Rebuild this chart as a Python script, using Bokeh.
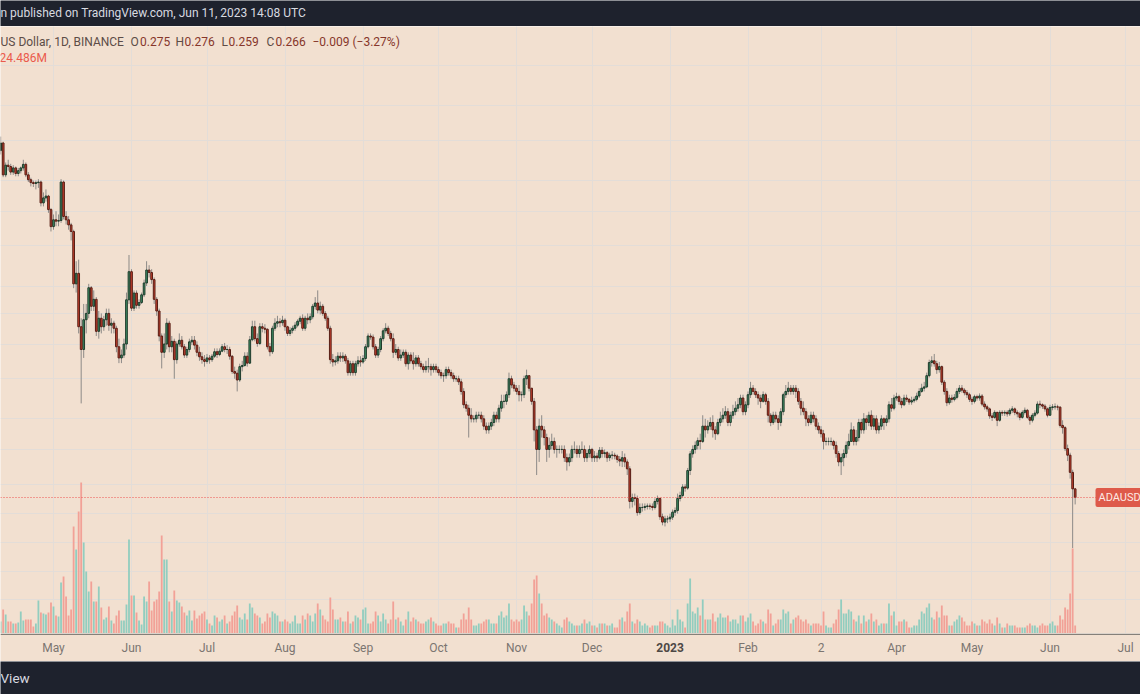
import math
import pandas as pd
from bokeh.plotting import figure
from bokeh.layouts import column
from bokeh.models import Range1d, LinearScale, Span, Label, Grid, FixedTicker, ColumnDataSource
from bokeh.embed import file_html
from bokeh.resources import INLINE
from bokeh.core.properties import value

# ---------------- data (ADA/USD daily) ----------------
start_date = "2022-04-10"
first_open = 1.010

c_2022_04 = [1.040,0.920,0.955,0.950,0.930,0.945,0.925,0.935,0.945,0.958,0.920,0.903,0.893,0.890,0.893,0.895,0.826,0.842,0.848,0.805,0.754]
h_2022_04 = [1.066,1.045,0.965,0.975,0.960,0.955,0.950,0.945,0.950,0.975,0.965,0.930,0.910,0.900,0.900,0.905,0.900,0.860,0.870,0.852,0.810]
l_2022_04 = [0.995,0.912,0.912,0.935,0.920,0.920,0.915,0.915,0.925,0.935,0.912,0.895,0.880,0.878,0.870,0.875,0.815,0.815,0.830,0.795,0.740]
v_2022_04 = [12,24,19,12,12,10,10,11,22,13,14,14,14,7,10,33,21,20,19,21,31]

c_2022_05 = [0.774,0.770,0.772,0.895,0.784,0.774,0.759,0.740,0.605,0.630,0.513,0.470,0.527,0.540,0.596,0.555,0.570,0.504,0.530,0.513,0.527,0.540,0.516,0.520,0.510,0.475,0.455,0.460,0.480,0.569,0.634]
h_2022_05 = [0.790,0.800,0.790,0.905,0.900,0.800,0.785,0.765,0.745,0.660,0.664,0.530,0.560,0.560,0.605,0.600,0.590,0.575,0.545,0.540,0.535,0.550,0.550,0.530,0.525,0.515,0.490,0.470,0.490,0.585,0.676]
l_2022_05 = [0.745,0.755,0.755,0.765,0.775,0.760,0.745,0.715,0.595,0.585,0.500,0.382,0.455,0.500,0.530,0.545,0.545,0.495,0.490,0.500,0.505,0.515,0.505,0.500,0.500,0.465,0.446,0.446,0.455,0.470,0.560]
v_2022_05 = [27,18,17,51,57,37,18,24,107,84,122,151,91,62,42,52,32,32,47,26,14,16,27,13,10,18,23,13,13,29,94]

c_2022_06 = [0.551,0.584,0.557,0.563,0.580,0.607,0.638,0.632,0.615,0.570,0.545,0.495,0.465,0.480,0.520,0.475,0.485,0.452,0.480,0.487,0.475,0.460,0.470,0.484,0.487,0.478,0.465,0.457,0.452,0.449]
h_2022_06 = [0.640,0.590,0.590,0.570,0.585,0.615,0.660,0.650,0.640,0.620,0.575,0.550,0.500,0.500,0.530,0.525,0.495,0.490,0.485,0.500,0.495,0.480,0.475,0.490,0.495,0.495,0.485,0.475,0.465,0.460]
l_2022_06 = [0.545,0.545,0.550,0.550,0.560,0.575,0.600,0.620,0.605,0.560,0.535,0.485,0.437,0.455,0.470,0.465,0.465,0.420,0.445,0.475,0.470,0.455,0.455,0.465,0.478,0.470,0.458,0.450,0.445,0.440]
v_2022_06 = [38,38,21,13,9,37,32,52,23,32,34,42,98,74,74,32,22,43,33,31,27,21,18,23,13,23,15,18,20,22]

c_2022_07 = [0.455,0.452,0.458,0.466,0.461,0.467,0.475,0.470,0.470,0.458,0.432,0.429,0.418,0.440,0.442,0.458,0.446,0.488,0.513,0.490,0.481,0.513,0.510,0.508,0.475,0.466,0.510,0.520,0.523,0.521,0.526]
h_2022_07 = [0.462,0.460,0.462,0.472,0.472,0.472,0.480,0.482,0.478,0.475,0.460,0.440,0.435,0.445,0.450,0.465,0.465,0.495,0.525,0.525,0.500,0.520,0.520,0.518,0.510,0.482,0.515,0.530,0.535,0.530,0.535]
l_2022_07 = [0.445,0.445,0.448,0.455,0.455,0.458,0.465,0.465,0.462,0.452,0.428,0.420,0.400,0.415,0.432,0.440,0.440,0.445,0.485,0.485,0.475,0.478,0.502,0.500,0.470,0.458,0.462,0.505,0.512,0.512,0.515]
v_2022_07 = [14,10,8,18,16,12,14,18,10,12,18,22,28,16,14,20,14,30,26,20,18,16,10,12,20,16,22,20,18,12,12]

c_2022_08 = [0.513,0.500,0.506,0.510,0.516,0.524,0.530,0.510,0.530,0.527,0.533,0.555,0.562,0.547,0.555,0.540,0.530,0.510,0.452,0.448,0.450,0.458,0.455,0.458,0.450,0.430,0.445,0.430,0.445,0.450,0.448]
h_2022_08 = [0.530,0.515,0.512,0.515,0.522,0.528,0.535,0.538,0.535,0.540,0.540,0.560,0.575,0.590,0.565,0.560,0.545,0.535,0.515,0.462,0.458,0.465,0.465,0.465,0.462,0.455,0.450,0.450,0.450,0.458,0.458]
l_2022_08 = [0.505,0.495,0.495,0.500,0.505,0.512,0.518,0.505,0.505,0.518,0.520,0.528,0.548,0.540,0.538,0.535,0.525,0.505,0.445,0.440,0.442,0.445,0.448,0.448,0.445,0.425,0.425,0.425,0.425,0.440,0.440]
v_2022_08 = [14,12,10,12,18,10,10,18,14,20,18,12,20,30,24,18,14,12,36,24,14,14,16,12,12,22,10,12,18,16,14]

c_2022_09 = [0.454,0.475,0.495,0.493,0.475,0.460,0.470,0.490,0.505,0.510,0.500,0.490,0.465,0.470,0.455,0.460,0.465,0.445,0.460,0.450,0.445,0.455,0.445,0.440,0.435,0.440,0.440,0.435,0.440,0.435]
h_2022_09 = [0.460,0.480,0.500,0.500,0.498,0.480,0.475,0.495,0.510,0.520,0.515,0.505,0.500,0.480,0.475,0.470,0.470,0.470,0.465,0.465,0.465,0.460,0.460,0.450,0.445,0.450,0.455,0.445,0.445,0.445]
l_2022_09 = [0.445,0.450,0.472,0.488,0.470,0.455,0.455,0.465,0.485,0.500,0.495,0.485,0.455,0.460,0.450,0.450,0.455,0.440,0.435,0.445,0.435,0.440,0.440,0.435,0.430,0.430,0.430,0.425,0.430,0.430]
v_2022_09 = [24,26,10,10,12,22,18,12,20,14,10,14,32,14,16,12,8,14,22,12,16,14,12,10,10,12,14,16,12,10]

c_2022_10 = [0.430,0.425,0.425,0.435,0.430,0.425,0.420,0.420,0.415,0.400,0.380,0.375,0.365,0.360,0.360,0.365,0.365,0.360,0.350,0.345,0.350,0.355,0.365,0.360,0.375,0.385,0.385,0.395,0.420,0.410,0.405]
h_2022_10 = [0.440,0.435,0.430,0.440,0.440,0.435,0.430,0.425,0.425,0.420,0.405,0.385,0.380,0.375,0.365,0.370,0.370,0.370,0.365,0.355,0.355,0.360,0.370,0.370,0.380,0.395,0.395,0.400,0.430,0.425,0.415]
l_2022_10 = [0.425,0.420,0.415,0.420,0.425,0.420,0.415,0.415,0.410,0.395,0.375,0.370,0.335,0.355,0.355,0.355,0.360,0.355,0.345,0.340,0.340,0.345,0.350,0.355,0.355,0.370,0.375,0.380,0.390,0.405,0.400]
v_2022_10 = [8,8,10,10,12,10,10,6,6,14,20,14,26,14,8,8,10,10,12,14,14,10,10,10,18,22,16,18,30,14,12]

c_2022_11 = [0.400,0.395,0.395,0.420,0.425,0.405,0.385,0.345,0.320,0.350,0.345,0.335,0.320,0.325,0.330,0.320,0.320,0.320,0.320,0.310,0.305,0.310,0.320,0.320,0.315,0.320,0.320,0.310,0.315,0.320]
h_2022_11 = [0.410,0.410,0.400,0.425,0.435,0.425,0.405,0.390,0.350,0.360,0.365,0.350,0.340,0.335,0.340,0.335,0.325,0.325,0.325,0.325,0.315,0.315,0.325,0.330,0.325,0.325,0.330,0.325,0.320,0.325]
l_2022_11 = [0.395,0.385,0.385,0.390,0.410,0.400,0.380,0.330,0.290,0.305,0.335,0.325,0.305,0.310,0.320,0.315,0.310,0.315,0.315,0.305,0.295,0.300,0.305,0.315,0.310,0.310,0.315,0.305,0.305,0.310]
v_2022_11 = [14,12,14,28,22,18,30,54,58,40,30,18,20,16,14,12,10,8,6,14,16,12,10,8,8,8,10,14,10,12]

c_2022_12 = [0.310,0.312,0.310,0.319,0.315,0.316,0.310,0.313,0.313,0.312,0.308,0.306,0.310,0.305,0.297,0.262,0.266,0.265,0.251,0.256,0.256,0.257,0.2575,0.257,0.256,0.262,0.265,0.247,0.242,0.245,0.245]
h_2022_12 = [0.322,0.318,0.316,0.323,0.323,0.320,0.318,0.316,0.318,0.316,0.314,0.312,0.318,0.315,0.308,0.300,0.270,0.270,0.268,0.260,0.260,0.260,0.260,0.260,0.260,0.265,0.268,0.266,0.250,0.248,0.248]
l_2022_12 = [0.305,0.305,0.305,0.308,0.310,0.310,0.305,0.306,0.308,0.308,0.304,0.300,0.299,0.299,0.290,0.255,0.256,0.258,0.248,0.249,0.252,0.253,0.254,0.254,0.253,0.254,0.259,0.244,0.239,0.238,0.241]
v_2022_12 = [8,8,6,10,10,10,8,8,10,6,6,14,16,12,22,30,12,10,14,12,8,10,8,6,8,8,8,12,12,10,8]

c_2023_01 = [0.2466,0.2514,0.253,0.265,0.268,0.277,0.2758,0.2951,0.3146,0.320,0.325,0.331,0.330,0.350,0.345,0.350,0.355,0.345,0.340,0.355,0.360,0.365,0.370,0.355,0.365,0.370,0.375,0.380,0.390,0.370,0.380]
h_2023_01 = [0.250,0.254,0.256,0.270,0.272,0.280,0.280,0.298,0.318,0.325,0.330,0.335,0.340,0.365,0.360,0.358,0.362,0.365,0.350,0.360,0.370,0.375,0.378,0.375,0.370,0.380,0.385,0.390,0.395,0.395,0.385]
l_2023_01 = [0.242,0.244,0.248,0.250,0.262,0.266,0.272,0.274,0.290,0.310,0.315,0.320,0.320,0.328,0.335,0.340,0.345,0.335,0.332,0.338,0.350,0.355,0.360,0.350,0.350,0.360,0.365,0.370,0.375,0.365,0.365]
v_2023_01 = [6,14,8,24,14,12,6,30,55,22,20,26,18,34,14,14,14,20,12,16,20,16,16,18,12,14,14,10,18,18,12]

c_2023_02 = [0.395,0.405,0.400,0.395,0.390,0.385,0.395,0.385,0.365,0.355,0.365,0.360,0.355,0.370,0.395,0.400,0.405,0.400,0.405,0.400,0.385,0.375,0.370,0.360,0.355,0.365,0.360,0.350]
h_2023_02 = [0.400,0.415,0.410,0.405,0.400,0.395,0.400,0.398,0.390,0.368,0.370,0.370,0.365,0.375,0.398,0.410,0.415,0.410,0.410,0.410,0.405,0.390,0.385,0.375,0.365,0.370,0.370,0.365]
l_2023_02 = [0.375,0.390,0.395,0.390,0.380,0.375,0.383,0.380,0.355,0.350,0.352,0.355,0.345,0.350,0.365,0.390,0.395,0.395,0.395,0.390,0.380,0.365,0.365,0.350,0.350,0.352,0.355,0.345]
v_2023_02 = [16,20,12,8,10,14,12,10,24,20,8,10,14,14,24,20,22,10,14,16,18,14,12,14,10,8,10,10]

c_2023_03 = [0.345,0.340,0.330,0.330,0.330,0.330,0.325,0.315,0.305,0.310,0.315,0.325,0.330,0.345,0.330,0.335,0.355,0.345,0.360,0.355,0.365,0.350,0.360,0.345,0.350,0.360,0.355,0.360,0.380,0.375,0.390]
h_2023_03 = [0.355,0.350,0.345,0.335,0.335,0.335,0.332,0.330,0.318,0.315,0.320,0.330,0.340,0.355,0.350,0.345,0.360,0.360,0.368,0.365,0.370,0.372,0.365,0.365,0.355,0.365,0.362,0.365,0.385,0.390,0.395]
l_2023_03 = [0.340,0.335,0.320,0.325,0.325,0.325,0.320,0.310,0.300,0.290,0.300,0.310,0.320,0.330,0.325,0.325,0.330,0.340,0.340,0.345,0.350,0.345,0.345,0.340,0.340,0.345,0.345,0.350,0.355,0.370,0.372]
v_2023_03 = [10,8,22,8,6,6,10,14,24,34,20,20,24,22,14,12,18,10,18,12,14,20,12,14,8,10,10,10,30,18,22]

c_2023_04 = [0.392,0.385,0.380,0.390,0.388,0.384,0.386,0.388,0.393,0.400,0.405,0.407,0.425,0.447,0.450,0.445,0.435,0.440,0.4145,0.400,0.383,0.390,0.388,0.391,0.400,0.405,0.402,0.398,0.395,0.388]
h_2023_04 = [0.398,0.395,0.390,0.395,0.395,0.390,0.392,0.392,0.398,0.405,0.412,0.415,0.430,0.452,0.458,0.462,0.450,0.448,0.442,0.418,0.405,0.395,0.395,0.396,0.405,0.410,0.410,0.405,0.402,0.398]
l_2023_04 = [0.386,0.380,0.375,0.378,0.384,0.380,0.380,0.383,0.385,0.390,0.398,0.400,0.405,0.422,0.440,0.440,0.428,0.430,0.410,0.395,0.378,0.380,0.383,0.385,0.388,0.396,0.398,0.394,0.390,0.384]
v_2023_04 = [8,12,12,14,12,6,6,8,8,14,22,20,26,30,16,14,22,16,28,18,18,8,8,12,14,18,16,12,8,8]

c_2023_05 = [0.385,0.392,0.390,0.393,0.381,0.377,0.374,0.364,0.362,0.369,0.358,0.369,0.368,0.369,0.367,0.372,0.374,0.369,0.367,0.362,0.369,0.372,0.362,0.358,0.365,0.368,0.381,0.380,0.378,0.374,0.365]
h_2023_05 = [0.392,0.395,0.395,0.397,0.396,0.385,0.380,0.376,0.368,0.372,0.370,0.372,0.372,0.372,0.372,0.375,0.378,0.376,0.372,0.370,0.372,0.376,0.374,0.365,0.368,0.372,0.385,0.386,0.382,0.381,0.376]
l_2023_05 = [0.380,0.382,0.386,0.386,0.378,0.373,0.370,0.360,0.357,0.360,0.350,0.356,0.364,0.364,0.363,0.364,0.368,0.365,0.362,0.358,0.360,0.366,0.360,0.352,0.355,0.362,0.366,0.375,0.374,0.370,0.362]
v_2023_05 = [12,10,8,8,14,12,10,14,10,8,16,10,6,6,10,8,8,8,6,6,6,6,8,10,8,8,6,8,10,8,8]

c_2023_06 = [0.376,0.377,0.377,0.3765,0.351,0.348,0.321,0.313,0.293,0.275,0.266]
h_2023_06 = [0.380,0.381,0.382,0.380,0.378,0.358,0.350,0.326,0.316,0.296,0.276]
l_2023_06 = [0.364,0.372,0.373,0.372,0.348,0.340,0.318,0.306,0.286,0.219,0.259]
v_2023_06 = [10,12,8,8,18,14,26,24,40,85,8]

tick_dates = ["2022-05-01", "2022-06-01", "2022-07-01", "2022-08-01", "2022-09-01", "2022-10-01",
              "2022-11-01", "2022-12-01", "2023-01-01", "2023-02-01", "2023-03-02", "2023-04-01",
              "2023-05-01", "2023-06-01", "2023-07-01"]
tick_labels = ["May", "Jun", "Jul", "Aug", "Sep", "Oct", "Nov", "Dec", "2023", "Feb", "2", "Apr",
               "May", "Jun", "Jul"]
price_grid = [1.40, 1.20, 1.05, 0.90, 0.80, 0.70, 0.60, 0.54, 0.48, 0.42, 0.36, 0.32, 0.28, 0.25, 0.224, 0.20, 0.18]

header_text = "n published on TradingView.com, Jun 11, 2023 14:08 UTC"
legend_title = "US Dollar, 1D, BINANCE"
legend_keys = ["O", "H", "L", "C"]
legend_vals = ["0.275", "0.276", "0.259", "0.266"]
legend_change = "\u22120.009 (\u22123.27%)"
vol_text = "24.486M"
footer_text = "View"
symbol = "ADAUSD"

# ---------------- assemble ----------------
months = ["2022_04", "2022_05", "2022_06", "2022_07", "2022_08", "2022_09", "2022_10", "2022_11",
          "2022_12", "2023_01", "2023_02", "2023_03", "2023_04", "2023_05", "2023_06"]
g = globals()
close = sum((g["c_" + m] for m in months), [])
high = sum((g["h_" + m] for m in months), [])
low = sum((g["l_" + m] for m in months), [])
vol = sum((g["v_" + m] for m in months), [])

dates = pd.date_range(start_date, periods=len(close), freq="D")
opens = [first_open] + close[:-1]
df = pd.DataFrame(dict(date=dates, open=opens, high=high, low=low, close=close, vol=vol))
df["top"] = df[["open", "close"]].max(axis=1)
df["bottom"] = df[["open", "close"]].min(axis=1)
inc = ColumnDataSource(df[df.close >= df.open])
dec = ColumnDataSource(df[df.close < df.open])

# ---------------- layout constants ----------------
W = 1140
H_HEAD, H_MAIN, H_AXIS, H_FOOT = 26, 607, 28, 33
FONT = "Roboto"
FS = "12px"
BG = "#f2e0d0"
DARK = "#1e222d"
GRID = "#e3ddd8"
DAY = 86400000

px_per_day = 1072 / 426.0
x_start = pd.Timestamp("2022-05-01") - pd.Timedelta(days=53 / px_per_day)
x_end = x_start + pd.Timedelta(days=W / px_per_day)
px_per_ln = 260.0
anchor_px = 497 - H_HEAD  # pixel of last close from top of main frame
last = close[-1]
y_top = last * math.exp(anchor_px / px_per_ln)
y_bot = last * math.exp(-(H_MAIN - anchor_px) / px_per_ln)

xr = Range1d(x_start, x_end)


def bare(height, x_range, y_range, bg, **kw):
    f = figure(width=W, height=height, x_range=x_range, y_range=y_range, toolbar_location=None,
               output_backend="svg", min_border=0, x_axis_location=None, y_axis_location=None,
               background_fill_color=bg, border_fill_color=bg, outline_line_color=None, **kw)
    f.grid.visible = False
    return f


# ---------------- header ----------------
head = bare(H_HEAD, Range1d(0, W), Range1d(0, H_HEAD), DARK)
head.add_layout(Label(x=0, y=H_HEAD / 2 + 1, x_units="screen", y_units="screen", text=header_text,
                      text_font=FONT, text_font_size=FS, text_color="#d8dae0",
                      text_baseline="middle"))

# ---------------- main chart ----------------
p = bare(H_MAIN, xr, Range1d(y_bot, y_top), BG, y_axis_type="log", x_axis_type="datetime",
         extra_y_ranges={"vol": Range1d(0, H_MAIN)}, extra_y_scales={"vol": LinearScale()})

month_ms = [pd.Timestamp(d).value // 10**6 for d in tick_dates]
p.add_layout(Grid(dimension=0, ticker=FixedTicker(ticks=month_ms), grid_line_color=GRID, grid_line_width=1))
p.add_layout(Grid(dimension=1, ticker=FixedTicker(ticks=price_grid), grid_line_color=GRID, grid_line_width=1))

# volume
p.vbar(x="date", width=0.72 * DAY, top="vol", bottom=0, y_range_name="vol", source=inc,
       fill_color="#92cdbf", line_color=None)
p.vbar(x="date", width=0.72 * DAY, top="vol", bottom=0, y_range_name="vol", source=dec,
       fill_color="#f2a197", line_color=None)

# candles
for src in (inc, dec):
    p.segment(x0="date", y0="low", x1="date", y1="high", source=src, line_color="#8d8a87", line_width=1)
p.vbar(x="date", width=0.68 * DAY, top="top", bottom="bottom", source=inc,
       fill_color="#3f9065", line_color="#1f3b2c", line_width=1)
p.vbar(x="date", width=0.68 * DAY, top="top", bottom="bottom", source=dec,
       fill_color="#c9402e", line_color="#571e15", line_width=1)

# last price line + tag
p.add_layout(Span(location=last, dimension="width", line_color="#ef5350", line_width=1, line_dash="1 2"))
p.add_layout(Label(x=1095, y=H_MAIN - anchor_px, x_units="screen", y_units="screen", text=symbol,
                   text_font=FONT, text_font_size="11px", text_color="#fde9e4",
                   text_baseline="middle", background_fill_color="#de5a4a", padding=3, border_radius=2))

# legend texts
LY = H_MAIN - 15
p.add_layout(Label(x=0, y=LY, x_units="screen", y_units="screen", text=legend_title,
                   text_font=FONT, text_font_size=FS, text_color="#5c4c47", text_baseline="middle"))
key_x = [130, 175, 221, 266]
val_x = [139.5, 184, 228, 275]
for k, v, kx, vx in zip(legend_keys, legend_vals, key_x, val_x):
    p.add_layout(Label(x=kx, y=LY, x_units="screen", y_units="screen", text=k,
                       text_font=FONT, text_font_size=FS, text_color="#5c4c47", text_baseline="middle"))
    p.add_layout(Label(x=vx, y=LY, x_units="screen", y_units="screen", text=v,
                       text_font=FONT, text_font_size=FS, text_color="#86362b", text_baseline="middle"))
p.add_layout(Label(x=312, y=LY, x_units="screen", y_units="screen", text=legend_change,
                   text_font=FONT, text_font_size=FS, text_color="#86362b", text_baseline="middle"))
p.add_layout(Label(x=-1, y=H_MAIN - 31, x_units="screen", y_units="screen", text=vol_text,
                   text_font=FONT, text_font_size=FS, text_color="#ea5a4c", text_baseline="middle"))

# ---------------- time axis strip ----------------
ax = bare(H_AXIS, xr, Range1d(0, H_AXIS), BG, x_axis_type="datetime")
tick_ts = [pd.Timestamp(d) for d in tick_dates]
norm = [(t, s) for t, s in zip(tick_ts, tick_labels) if s != "2023"]
bold = [(t, s) for t, s in zip(tick_ts, tick_labels) if s == "2023"]
ax.text(x=[t for t, _ in norm], y=[H_AXIS / 2] * len(norm), text=[s for _, s in norm],
        text_font=value(FONT), text_font_size=FS, text_color="#7b7570",
        text_align="center", text_baseline="middle")
ax.text(x=[t for t, _ in bold], y=[H_AXIS / 2] * len(bold), text=[s for _, s in bold],
        text_font=value(FONT), text_font_size=FS, text_font_style="bold", text_color="#4d4845",
        text_align="center", text_baseline="middle")
ax.add_layout(Span(location=H_AXIS - 0.75, dimension="width", line_color="#858079", line_width=1.5))

# ---------------- footer ----------------
foot = bare(H_FOOT, Range1d(0, W), Range1d(0, H_FOOT), DARK)
foot.add_layout(Label(x=0, y=H_FOOT - 16, x_units="screen", y_units="screen", text=footer_text,
                      text_font=FONT, text_font_size="13.5px", text_color="#d8dae0",
                      text_baseline="middle"))

layout = column(head, p, ax, foot, spacing=0)
open("out.html", "w").write(file_html(layout, INLINE))
